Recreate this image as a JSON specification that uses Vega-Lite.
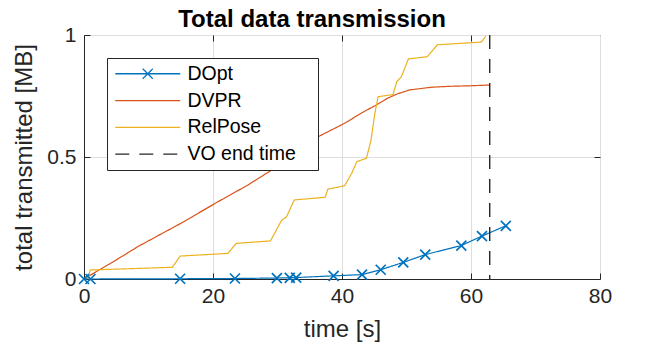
{
  "$schema": "https://vega.github.io/schema/vega-lite/v6.json",
  "width": 516,
  "height": 244,
  "autosize": {"type": "none"},
  "padding": {"left": 84, "top": 35, "right": 64, "bottom": 70},
  "background": "white",
  "title": {"text": "Total data transmission", "fontSize": 24, "font": "Liberation Sans", "fontWeight": "bold", "color": "#000000", "offset": -8, "anchor": "middle", "dx": -30},
  "config": {
    "font": "Liberation Sans",
    "view": {"stroke": "#262626", "strokeWidth": 1},
    "axis": {
      "domainColor": "#262626",
      "tickColor": "#262626",
      "tickSize": -6,
      "labelFlush": false,
      "labelFontSize": 21,
      "labelColor": "#262626",
      "labelFont": "Liberation Sans",
      "titleFontSize": 24,
      "titleColor": "#262626",
      "titleFont": "Liberation Sans",
      "titleFontWeight": "normal",
      "gridColor": "#dedede",
      "gridWidth": 1
    },
    "legend": {
      "orient": "none",
      "legendX": 23,
      "legendY": 23,
      "padding": 6,
      "strokeColor": "#262626",
      "fillColor": "white",
      "labelFontSize": 19.5,
      "labelColor": "#000000",
      "labelFont": "Liberation Sans",
      "rowPadding": 5.8,
      "symbolSize": 196,
      "symbolOffset": 25,
      "symbolStrokeWidth": 1.3,
      "labelOffset": 30,
      "title": null
    }
  },
  "datasets": {
    "curves": [
      {"series": "DVPR", "time": 0, "value": 0},
      {"series": "DVPR", "time": 1, "value": 0.016},
      {"series": "DVPR", "time": 4, "value": 0.062},
      {"series": "DVPR", "time": 8.5, "value": 0.135},
      {"series": "DVPR", "time": 10.4, "value": 0.162},
      {"series": "DVPR", "time": 15, "value": 0.228},
      {"series": "DVPR", "time": 20.8, "value": 0.317},
      {"series": "DVPR", "time": 25.4, "value": 0.385},
      {"series": "DVPR", "time": 29.3, "value": 0.45},
      {"series": "DVPR", "time": 33, "value": 0.53},
      {"series": "DVPR", "time": 36.3, "value": 0.583},
      {"series": "DVPR", "time": 40.4, "value": 0.638},
      {"series": "DVPR", "time": 43, "value": 0.68},
      {"series": "DVPR", "time": 45.3, "value": 0.713},
      {"series": "DVPR", "time": 47, "value": 0.74},
      {"series": "DVPR", "time": 48.5, "value": 0.758},
      {"series": "DVPR", "time": 50.5, "value": 0.775},
      {"series": "DVPR", "time": 53.9, "value": 0.786},
      {"series": "DVPR", "time": 57, "value": 0.79},
      {"series": "DVPR", "time": 60, "value": 0.792},
      {"series": "DVPR", "time": 62.9, "value": 0.795},
      {"series": "RelPose", "time": 0, "value": 0},
      {"series": "RelPose", "time": 0.6, "value": 0.005},
      {"series": "RelPose", "time": 1.0, "value": 0.037},
      {"series": "RelPose", "time": 13.7, "value": 0.048},
      {"series": "RelPose", "time": 14.9, "value": 0.094},
      {"series": "RelPose", "time": 22.3, "value": 0.105},
      {"series": "RelPose", "time": 23.6, "value": 0.146},
      {"series": "RelPose", "time": 28.9, "value": 0.156},
      {"series": "RelPose", "time": 30.1, "value": 0.214},
      {"series": "RelPose", "time": 30.6, "value": 0.239},
      {"series": "RelPose", "time": 31.4, "value": 0.255},
      {"series": "RelPose", "time": 32.6, "value": 0.324},
      {"series": "RelPose", "time": 37.4, "value": 0.335},
      {"series": "RelPose", "time": 37.8, "value": 0.368},
      {"series": "RelPose", "time": 40.4, "value": 0.382},
      {"series": "RelPose", "time": 41.5, "value": 0.433},
      {"series": "RelPose", "time": 42.3, "value": 0.481},
      {"series": "RelPose", "time": 43.8, "value": 0.495},
      {"series": "RelPose", "time": 44.5, "value": 0.57},
      {"series": "RelPose", "time": 45.1, "value": 0.68},
      {"series": "RelPose", "time": 45.6, "value": 0.747},
      {"series": "RelPose", "time": 47.9, "value": 0.756},
      {"series": "RelPose", "time": 48.5, "value": 0.809},
      {"series": "RelPose", "time": 49.2, "value": 0.829},
      {"series": "RelPose", "time": 50.3, "value": 0.902},
      {"series": "RelPose", "time": 53.2, "value": 0.911},
      {"series": "RelPose", "time": 54.8, "value": 0.96},
      {"series": "RelPose", "time": 61.6, "value": 0.971},
      {"series": "RelPose", "time": 62.3, "value": 0.995},
      {"series": "DOpt", "time": 0, "value": 0},
      {"series": "DOpt", "time": 1.0, "value": 0},
      {"series": "DOpt", "time": 14.9, "value": 0.001},
      {"series": "DOpt", "time": 23.4, "value": 0.002},
      {"series": "DOpt", "time": 29.9, "value": 0.004},
      {"series": "DOpt", "time": 31.9, "value": 0.005},
      {"series": "DOpt", "time": 32.9, "value": 0.006},
      {"series": "DOpt", "time": 38.7, "value": 0.013},
      {"series": "DOpt", "time": 43.1, "value": 0.018},
      {"series": "DOpt", "time": 46.0, "value": 0.038},
      {"series": "DOpt", "time": 49.5, "value": 0.068},
      {"series": "DOpt", "time": 52.9, "value": 0.1},
      {"series": "DOpt", "time": 58.5, "value": 0.137},
      {"series": "DOpt", "time": 61.7, "value": 0.176},
      {"series": "DOpt", "time": 65.4, "value": 0.218}
    ],
    "voend": [
      {"series": "VO end time", "time": 62.9}
    ],
    "legendrows": [
      {"series": "DOpt", "time": 0, "value": 0},
      {"series": "DVPR", "time": 0, "value": 0},
      {"series": "RelPose", "time": 0, "value": 0},
      {"series": "VO end time", "time": 0, "value": 0}
    ]
  },
  "resolve": {"axis": {"x": "independent", "y": "independent"}},
  "layer": [
    {
      "data": {"name": "curves"},
      "mark": {"type": "line", "strokeWidth": 1.2},
      "encoding": {
        "x": {"field": "time", "type": "quantitative", "scale": {"domain": [0, 80], "nice": false},
              "axis": {"orient": "bottom", "values": [0, 20, 40, 60, 80], "format": "d", "title": "time [s]", "labelPadding": 12, "titlePadding": 11, "grid": true}},
        "y": {"field": "value", "type": "quantitative", "scale": {"domain": [0, 1], "nice": false},
              "axis": {"orient": "left", "values": [0, 0.5, 1], "format": "~g", "title": "total transmitted [MB]", "labelPadding": 14, "titlePadding": 10, "grid": true}},
        "color": {"field": "series", "type": "nominal",
                  "scale": {"domain": ["DOpt", "DVPR", "RelPose", "VO end time"], "range": ["#0072BD", "#D95319", "#EDB120", "#262626"]}},
        "strokeDash": {"field": "series", "type": "nominal",
                  "scale": {"domain": ["DOpt", "DVPR", "RelPose", "VO end time"], "range": [[1, 0], [1, 0], [1, 0], [14, 10]]}},
        "order": {"field": "series", "sort": "descending"}
      }
    },
    {
      "data": {"name": "curves"},
      "transform": [{"filter": "datum.series === 'DOpt'"}],
      "mark": {"type": "point", "shape": "M-1,-1L1,1M-1,1L1,-1", "filled": false, "stroke": "#0072BD", "strokeWidth": 1.7, "size": 100, "opacity": 1},
      "encoding": {
        "x": {"field": "time", "type": "quantitative",
              "axis": {"orient": "top", "values": [20, 40, 60], "labels": false, "title": null, "grid": false, "domain": false}},
        "y": {"field": "value", "type": "quantitative",
              "axis": {"orient": "right", "values": [0.5], "labels": false, "title": null, "grid": false, "domain": false}}
      }
    },
    {
      "data": {"name": "voend"},
      "mark": {"type": "rule", "strokeWidth": 1.4},
      "encoding": {
        "x": {"field": "time", "type": "quantitative", "axis": null},
        "color": {"field": "series", "type": "nominal"},
        "strokeDash": {"field": "series", "type": "nominal"}
      }
    },
    {
      "data": {"name": "legendrows"},
      "mark": {"type": "point", "filled": false, "opacity": 0},
      "encoding": {
        "x": {"field": "time", "type": "quantitative", "axis": null},
        "y": {"field": "value", "type": "quantitative", "axis": null},
        "shape": {"field": "series", "type": "nominal",
                  "scale": {"domain": ["DOpt", "DVPR", "RelPose", "VO end time"],
                            "range": ["M-4.64,0L4.64,0M-0.72,-0.72L0.72,0.72M-0.72,0.72L0.72,-0.72M23,0L23,0", "M-4.64,0L4.64,0M23,0L23,0", "M-4.64,0L4.64,0M23,0L23,0", "M-4.64,0L4.64,0M23,0L23,0"]}}
      }
    }
  ]
}
